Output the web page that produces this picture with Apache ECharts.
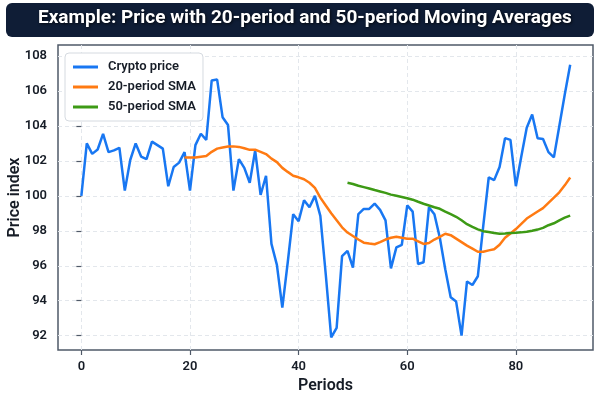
<!DOCTYPE html>
<html>
<head>
<meta charset="utf-8">
<script src="https://cdn.jsdelivr.net/npm/echarts@6/dist/echarts.min.js"></script>
<style>
  html, body { margin: 0; padding: 0; background: #fff; }
  #chart { width: 600px; height: 400px; }
</style>
</head>
<body>
<div id="chart"></div>
<script>
// price, one value per period 0..90
let price = [
    100.0, 103.0, 102.4, 102.65, 103.55, 102.5, 102.6, 102.75, 100.3, 102.05,
    103.0, 102.25, 102.1, 103.1, 102.9, 102.7, 100.55, 101.65, 101.9, 102.5,
    100.3, 102.9, 103.55, 103.2, 106.6, 106.65, 104.5, 104.05, 100.3, 102.1,
    101.6, 100.75, 102.6, 100.05, 101.15, 97.25, 96.05, 93.6, 96.2, 98.95,
    98.55, 99.75, 99.35, 100.0, 98.85, 95.5, 91.9, 92.45, 96.55, 96.85,
    95.9, 98.95, 99.25, 99.25, 99.55, 99.2, 98.6, 95.85, 97.05, 97.2,
    99.45, 99.1, 96.1, 96.2, 99.35, 98.95, 97.6, 95.8, 94.2, 93.95,
    92.0, 95.1, 94.9, 95.4, 98.3, 101.05, 100.9, 101.65, 103.3, 103.2,
    100.55, 102.25, 103.9, 104.65, 103.3, 103.25, 102.5, 102.2, 104.0, 105.8,
    107.5
];
// 20-period SMA, starts at period 19
let sma20Start = 19;
let sma20 = [
    102.19, 102.19, 102.19, 102.24, 102.28, 102.52, 102.7, 102.77, 102.82, 102.83,
    102.8, 102.72, 102.63, 102.64, 102.52, 102.39, 102.13, 101.93, 101.6, 101.37,
    101.15, 101.06, 100.95, 100.75, 100.45, 99.9, 99.45, 99.0, 98.6, 98.2,
    97.9, 97.7, 97.5, 97.32, 97.27, 97.23, 97.35, 97.5, 97.6, 97.66,
    97.6, 97.55, 97.55, 97.4, 97.25, 97.3, 97.5, 97.65, 97.83, 97.75,
    97.55, 97.35, 97.15, 96.98, 96.8, 96.8, 96.88, 96.94, 97.2, 97.6,
    97.85, 98.1, 98.4, 98.7, 98.9, 99.1, 99.3, 99.6, 99.9, 100.2,
    100.6, 101.05
];
// 50-period SMA, starts at period 49
let sma50Start = 49;
let sma50 = [
    100.75, 100.68, 100.58, 100.5, 100.42, 100.33, 100.25, 100.17, 100.07, 100.0,
    99.93, 99.86, 99.78, 99.66, 99.55, 99.45, 99.35, 99.26, 99.1, 98.95,
    98.8, 98.6, 98.38, 98.22, 98.08, 97.98, 97.93, 97.87, 97.83, 97.85,
    97.88, 97.89, 97.91, 97.94, 98.0, 98.07, 98.17, 98.32, 98.43, 98.6,
    98.75, 98.87
];
let xTicks = [0, 20, 40, 60, 80];
let yTicks = [92, 94, 96, 98, 100, 102, 104, 106, 108];

function pairs(values, start) {
    let out = [];
    for (let i = 0; i < values.length; i++) {
        out.push([start + i, values[i]]);
    }
    return out;
}

let font = 'Roboto, "Noto Sans", sans-serif';
let ink = '#161c26';
let gridLine = { show: true, lineStyle: { color: '#e3e7ec', type: [4, 3], width: 1 } };

let option = {
    animation: false,
    textStyle: { fontFamily: font },
    graphic: [{
        type: 'rect',
        left: 6, top: 3, z: 0,
        shape: { width: 588, height: 34, r: 6 },
        style: { fill: '#0f1d36' }
    }],
    title: {
        text: 'Example: Price with 20-period and 50-period Moving Averages',
        left: 38,
        top: 9,
        padding: 0,
        textStyle: {
            color: '#ffffff',
            fontSize: 19,
            fontWeight: 'bold',
            fontFamily: font,
            textShadowColor: 'rgba(0,0,0,0.75)',
            textShadowBlur: 3,
            textShadowOffsetX: 1,
            textShadowOffsetY: 1
        }
    },
    legend: {
        orient: 'vertical',
        left: 65,
        top: 53,
        padding: [7, 7, 7, 8],
        itemGap: 6,
        itemWidth: 25,
        itemHeight: 3,
        icon: 'rect',
        backgroundColor: '#ffffff',
        borderColor: '#d5dae0',
        borderWidth: 1,
        borderRadius: 4,
        textStyle: { fontSize: 13, fontWeight: 600, color: ink, lineHeight: 14, padding: [0, 0, 0, 5] },
        data: ['Crypto price', '20-period SMA', '50-period SMA']
    },
    grid: {
        left: 58, right: 7, top: 45, bottom: 50,
        outerBoundsMode: 'none',
        containLabel: false,
        show: true,
        borderColor: '#4f5968',
        borderWidth: 1.5
    },
    xAxis: {
        type: 'value',
        min: -4.3,
        max: 94.2,
        name: 'Periods',
        nameLocation: 'middle',
        nameGap: 28,
        nameMoveOverlap: false,
        nameTextStyle: { fontSize: 16, fontWeight: 600, color: ink },
        axisLine: { show: false },
        axisTick: { show: true, length: 5, customValues: xTicks, lineStyle: { color: '#4f5968', width: 1.2 } },
        axisLabel: { customValues: xTicks, margin: 10, fontSize: 13, fontWeight: 600, color: ink },
        splitLine: Object.assign({ customValues: xTicks }, gridLine)
    },
    yAxis: {
        type: 'value',
        min: 91.18,
        max: 108.63,
        name: 'Price index',
        nameLocation: 'middle',
        nameGap: 35,
        nameMoveOverlap: false,
        nameTextStyle: { fontSize: 16, fontWeight: 600, color: ink },
        axisLine: { show: false },
        axisTick: { show: true, length: 5, customValues: yTicks, lineStyle: { color: '#4f5968', width: 1.2 } },
        axisLabel: { customValues: yTicks, margin: 11, fontSize: 13, fontWeight: 600, color: ink },
        splitLine: Object.assign({ customValues: yTicks }, gridLine)
    },
    series: [{
        name: 'Crypto price',
        type: 'line',
        showSymbol: false,
        color: '#1877f2',
        lineStyle: { width: 2.5 },
        data: pairs(price, 0),
        z: 3
    }, {
        name: '20-period SMA',
        type: 'line',
        showSymbol: false,
        color: '#ff7a12',
        lineStyle: { width: 2.5 },
        data: pairs(sma20, sma20Start),
        z: 4
    }, {
        name: '50-period SMA',
        type: 'line',
        showSymbol: false,
        color: '#3d9a15',
        lineStyle: { width: 2.5 },
        data: pairs(sma50, sma50Start),
        z: 5
    }]
};

let myChart = echarts.init(document.getElementById('chart'));
myChart.setOption(option);
</script>
</body>
</html>
